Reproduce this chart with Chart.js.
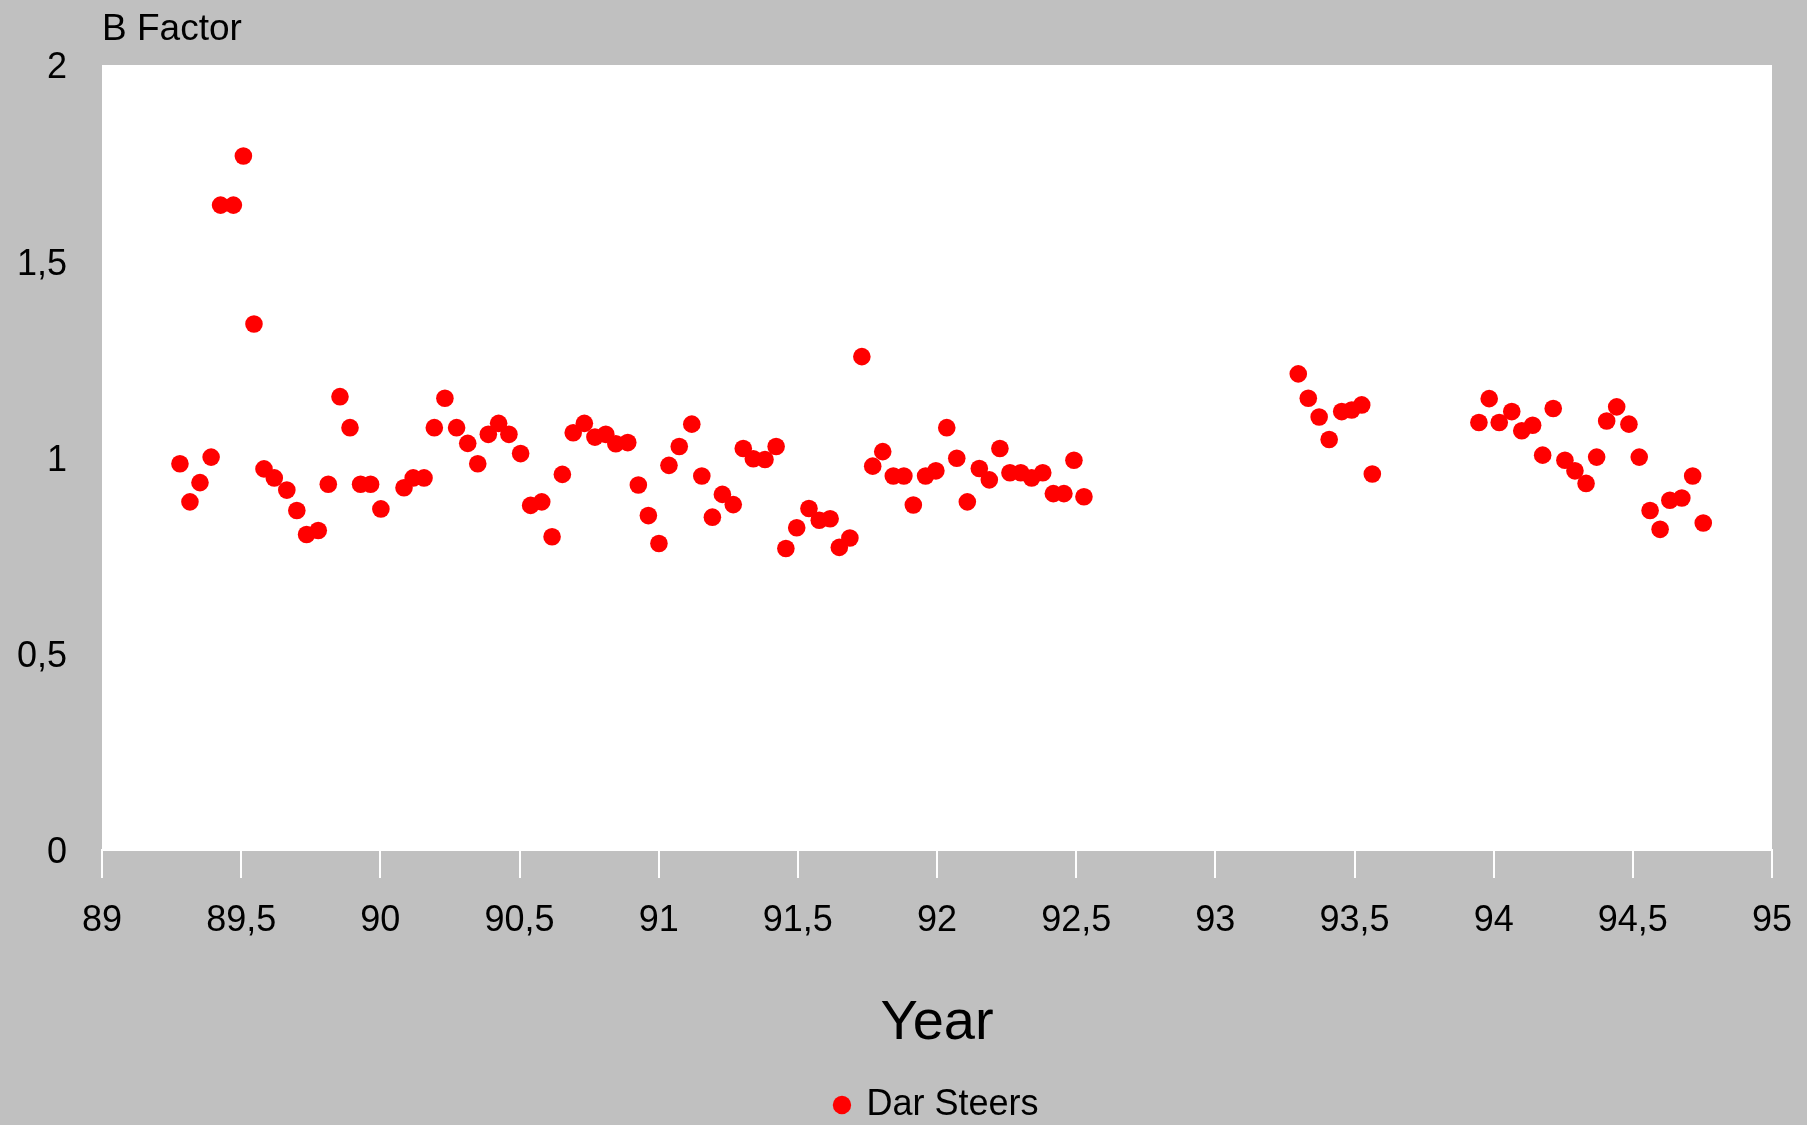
<!DOCTYPE html>
<html>
<head>
<meta charset="utf-8">
<title>B Factor - Dar Steers</title>
<script src="https://cdn.jsdelivr.net/npm/chart.js@4.4.1/dist/chart.umd.min.js"></script>
<style>
  html, body { margin: 0; padding: 0; background: #c0c0c0; }
  canvas { display: block; }
</style>
</head>
<body>
<canvas id="myChart" width="1807" height="1125"></canvas>
<script>
// data
const seriesName = 'Dar Steers';

const years = [
  89.280, 89.316, 89.352, 89.392, 89.426, 89.472, 89.508, 89.546, 89.582, 89.619,
  89.664, 89.700, 89.735, 89.777, 89.813, 89.855, 89.891, 89.929, 89.965, 90.002,
  90.085, 90.118, 90.157, 90.194, 90.232, 90.274, 90.314, 90.350, 90.388, 90.425,
  90.462, 90.504, 90.540, 90.580, 90.617, 90.654, 90.693, 90.733, 90.771, 90.810,
  90.846, 90.889, 90.927, 90.963, 91.001, 91.037, 91.074, 91.119, 91.155, 91.193,
  91.229, 91.268, 91.304, 91.340, 91.382, 91.422, 91.457, 91.496, 91.540, 91.577,
  91.616, 91.649, 91.687, 91.730, 91.769, 91.805, 91.843, 91.881, 91.915, 91.959,
  91.996, 92.035, 92.071, 92.109, 92.152, 92.188, 92.226, 92.262, 92.301, 92.340,
  92.380, 92.418, 92.456, 92.492, 92.528,
  93.298, 93.334, 93.373, 93.409, 93.454, 93.490, 93.526, 93.564,
  93.947, 93.984, 94.020, 94.065, 94.101, 94.140, 94.176, 94.214, 94.256, 94.292,
  94.332, 94.370, 94.406, 94.442, 94.486, 94.523, 94.562, 94.598, 94.633, 94.676,
  94.715, 94.753
];

const bFactor = [
  0.984, 0.887, 0.936, 1.001, 1.643, 1.643, 1.768, 1.340, 0.971, 0.948,
  0.917, 0.865, 0.804, 0.814, 0.932, 1.155, 1.076, 0.932, 0.932, 0.869,
  0.923, 0.948, 0.948, 1.076, 1.151, 1.076, 1.036, 0.984, 1.059, 1.087,
  1.059, 1.010, 0.878, 0.887, 0.798, 0.957, 1.063, 1.087, 1.052, 1.059,
  1.035, 1.038, 0.930, 0.852, 0.781, 0.980, 1.028, 1.085, 0.953, 0.848,
  0.906, 0.880, 1.023, 0.997, 0.995, 1.028, 0.768, 0.821, 0.870, 0.840,
  0.844, 0.771, 0.795, 1.257, 0.978, 1.015, 0.953, 0.953, 0.879, 0.953,
  0.966, 1.076, 0.998, 0.887, 0.972, 0.943, 1.023, 0.961, 0.961, 0.948,
  0.961, 0.908, 0.908, 0.993, 0.900,
  1.213, 1.151, 1.103, 1.046, 1.117, 1.121, 1.134, 0.958,
  1.089, 1.150, 1.089, 1.117, 1.068, 1.082, 1.006, 1.125, 0.993, 0.966,
  0.934, 1.001, 1.093, 1.129, 1.085, 1.001, 0.865, 0.817, 0.891, 0.897,
  0.953, 0.833
];

// axis ranges and tick steps
const xRange = [89, 95];
const xStep = 0.5;
const yRange = [0, 2];
const yStep = 0.5;

const FONT = 'Liberation Sans, Arial, Helvetica, sans-serif';
Chart.defaults.font.family = FONT;
Chart.defaults.color = '#000';

// 89,5 style labels, no trailing zeros
const commaLabel = (value) => String(value).replace('.', ',');

//white plot area on the grey page
const plotBackground = {
  id: 'plotBackground',
  beforeDraw(chart) {
    const {ctx, chartArea: a} = chart;
    ctx.save();
    ctx.fillStyle = '#ffffff';
    ctx.fillRect(a.left, a.top, a.right - a.left, a.bottom - a.top);
    ctx.restore();
  }
};

const points = years.map((x, i) => ({x, y: bFactor[i]}));

const data = {
  datasets: [{
    label: seriesName,
    data: points,
    backgroundColor: '#ff0000',
    borderColor: '#ff0000',
    borderWidth: 0,
    pointRadius: 8.8,
    pointStyle: 'circle'
  }]
};

const options = {
  responsive: false,
  devicePixelRatio: 1,
  animation: false,
  events: [],
  layout: {
    padding: {top: 0, right: 35, bottom: -8, left: 0}
  },
  scales: {
    x: {
      type: 'linear',
      position: 'bottom',
      min: xRange[0],
      max: xRange[1],
      afterFit: (scale) => {
        scale.height = 233;
        scale.paddingLeft = 0;
        scale.paddingRight = 0;
      },
      ticks: {
        stepSize: xStep,
        autoSkip: false,
        maxRotation: 0,
        padding: 21.5,
        font: {size: 36},
        callback: commaLabel
      },
      grid: {
        drawOnChartArea: false,
        drawTicks: true,
        tickLength: 28,
        color: '#ffffff',
        lineWidth: 2
      },
      border: {color: '#ffffff', width: 2},
      title: {
        display: true,
        text: 'Year',
        font: {size: 56},
        padding: {top: 0, bottom: 26}
      }
    },
    y: {
      min: yRange[0],
      max: yRange[1],
      afterFit: (scale) => {
        scale.width = 102;
        scale.paddingTop = 0;
        scale.paddingBottom = 0;
      },
      ticks: {
        stepSize: yStep,
        padding: 35,
        labelOffset: 3.5,
        font: {size: 36},
        callback: commaLabel
      },
      grid: {display: false, drawTicks: false},
      border: {display: false}
    }
  },
  plugins: {
    title: {
      display: true,
      text: 'B Factor',
      align: 'start',
      fullSize: false,
      color: '#000',
      font: {size: 37, weight: 'normal'},
      padding: {top: 7.5, bottom: 13.1}
    },
    legend: {
      position: 'bottom',
      fullSize: false,
      labels: {
        usePointStyle: true,
        pointStyle: 'circle',
        boxWidth: 13,
        boxHeight: 13,
        padding: 4,
        color: '#000',
        font: {size: 36}
      }
    },
    tooltip: {enabled: false}
  }
};

new Chart(document.getElementById('myChart'), {
  type: 'scatter',
  data,
  options,
  plugins: [plotBackground]
});
</script>
</body>
</html>
